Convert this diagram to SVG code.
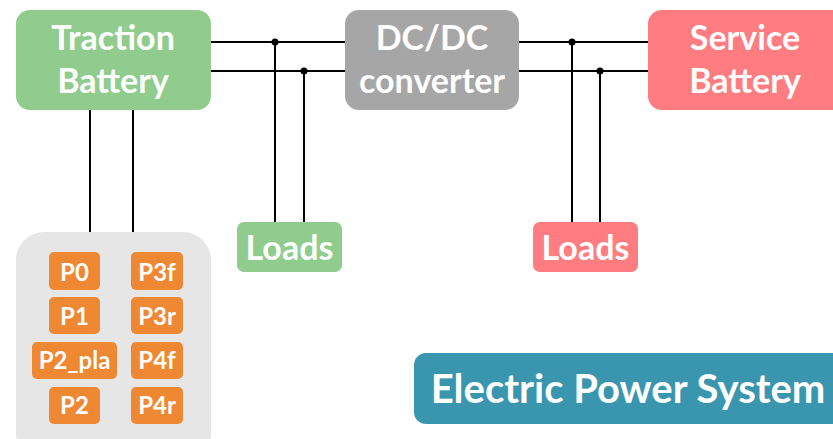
<svg xmlns="http://www.w3.org/2000/svg" width="833" height="439" viewBox="0 0 833 439">
<style>
text{font-family:Lato,"Open Sans","Liberation Sans",sans-serif;font-weight:bold;fill:#fff;text-anchor:middle}
.big{font-size:34px}
.mid{font-size:34px}
.p{font-size:24px}
.eps{font-size:40px}
.wire{stroke:#000;stroke-width:2;fill:none}
.dot{fill:#000}
</style>
<rect width="833" height="439" fill="#fff"/>
<g id="connectors">
<path class="wire" d="M211 42H345M211 71H345M519 42H648M519 71H648"/>
<path class="wire" d="M275 42V222M304 71V222M572 42V222M600 71V222"/>
<path class="wire" d="M90 110V232M133 110V232"/>
<circle class="dot" cx="275" cy="42" r="3.5"/>
<circle class="dot" cx="304" cy="71" r="3.5"/>
<circle class="dot" cx="572" cy="42" r="3.5"/>
<circle class="dot" cx="600" cy="71" r="3.5"/>
</g>
<g id="traction-battery">
<rect x="16" y="10" width="195" height="100" rx="14" fill="#8FCC8D"/>
<text class="big" x="113" y="50">Traction</text>
<text class="big" x="113" y="93">Battery</text>
</g>
<g id="dcdc-converter">
<rect x="345" y="10" width="174" height="100" rx="14" fill="#A6A6A6"/>
<text class="big" x="432" y="50">DC/DC</text>
<text class="big" x="432" y="93">converter</text>
</g>
<g id="service-battery">
<rect x="648" y="10" width="200" height="100" rx="14" fill="#FF7C80"/>
<text class="big" x="745" y="50">Service</text>
<text class="big" x="745" y="93">Battery</text>
</g>
<g id="loads-left">
<rect x="237" y="222" width="105" height="50" rx="7" fill="#8FCC8D"/>
<text class="mid" x="289.5" y="260">Loads</text>
</g>
<g id="loads-right">
<rect x="533" y="222" width="105" height="50" rx="7" fill="#FF7C80"/>
<text class="mid" x="585.5" y="260">Loads</text>
</g>
<g id="powertrain-group">
<rect x="16" y="232" width="195" height="230" rx="28" fill="#E6E6E6"/>
</g>
<g id="p0"><rect x="49" y="252" width="51" height="38" rx="5" fill="#EE8833"/><text class="p" x="74.5" y="281">P0</text></g>
<g id="p1"><rect x="49" y="297" width="51" height="37" rx="5" fill="#EE8833"/><text class="p" x="74.5" y="325">P1</text></g>
<g id="p2_pla"><rect x="32" y="342" width="85" height="37" rx="5" fill="#EE8833"/><text class="p" x="74.5" y="369">P2_pla</text></g>
<g id="p2"><rect x="49" y="387" width="51" height="37" rx="5" fill="#EE8833"/><text class="p" x="74.5" y="414">P2</text></g>
<g id="p3f"><rect x="131" y="252" width="52" height="38" rx="5" fill="#EE8833"/><text class="p" x="157" y="281">P3f</text></g>
<g id="p3r"><rect x="131" y="297" width="52" height="37" rx="5" fill="#EE8833"/><text class="p" x="157" y="325">P3r</text></g>
<g id="p4f"><rect x="131" y="342" width="52" height="37" rx="5" fill="#EE8833"/><text class="p" x="157" y="369">P4f</text></g>
<g id="p4r"><rect x="131" y="387" width="52" height="37" rx="5" fill="#EE8833"/><text class="p" x="157" y="414">P4r</text></g>
<g id="title">
<rect x="414" y="353" width="440" height="71" rx="12" fill="#3A96AF"/>
<text class="eps" x="628" y="403">Electric Power System</text>
</g>
</svg>
